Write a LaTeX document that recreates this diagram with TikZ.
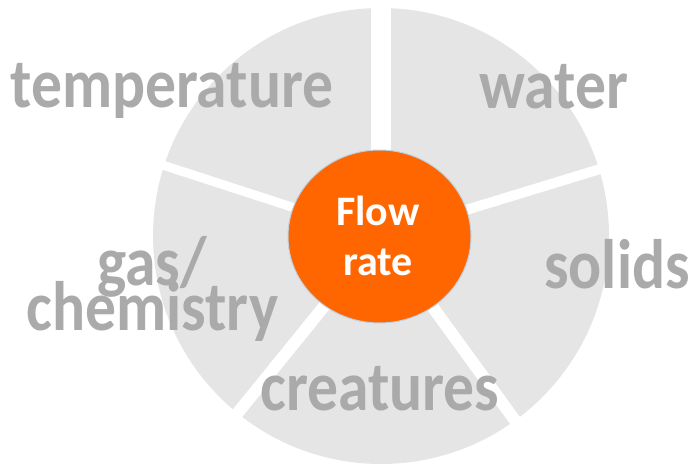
\documentclass[tikz,border=0pt]{standalone}
\usepackage{fontspec}
\setmainfont{Carlito}
\newfontfamily\lblfont[FakeStretch=0.88]{Carlito}
\usetikzlibrary{shapes.geometric,calc}
\definecolor{seg}{RGB}{229,229,229}
\definecolor{lbl}{RGB}{170,170,170}
\definecolor{flow}{RGB}{255,102,0}
\definecolor{rim}{RGB}{190,208,225}
\begin{document}
\begin{tikzpicture}[x=1pt,y=-1pt,
  lbltext/.style={text=lbl, font=\lblfont\bfseries\fontsize{70}{70}\selectfont, inner sep=0pt, anchor=base},
  gapline/.style={draw=white, line width=#1},
  hubtext/.style={text=white, font=\bfseries\fontsize{42}{50}\selectfont, inner sep=0pt, anchor=base}]
\useasboundingbox (0,0) rectangle (698,463);
\coordinate (pc) at (381,236);
% pie disc
\fill[seg] (pc) circle[radius=228];
% gaps between the five segments
\coordinate (e1) at ($(pc)+(-90:240)$);
\coordinate (e2) at ($(pc)+(-162:240)$);
\coordinate (e3) at ($(pc)+(-231:240)$);
\coordinate (e4) at ($(pc)+(-306:240)$);
\coordinate (e5) at ($(pc)+(-17:240)$);
\draw[gapline=20pt] (pc) -- (e1);
\draw[gapline=9pt] (pc) -- (e2);
\draw[gapline=12pt] (pc) -- (e3);
\draw[gapline=12pt] (pc) -- (e4);
\draw[gapline=10pt] (pc) -- (e5);
% labels
\node[lbltext] (temp) at (172,107) {temperature};
\node[lbltext] (water) at (554,108) {water};
\node[lbltext] (solids) at (617,288) {solids};
\node[lbltext] (gas) at (152,285) {gas/};
\node[lbltext] (chem) at (152.5,330) {chemistry};
\node[lbltext] (creat) at (380,410) {creatures};
% centre
\node[ellipse, fill=flow, draw=rim, line width=1pt, minimum width=183pt, minimum height=173pt, inner sep=0pt] (hub) at (379.5,236.5) {};
\node[hubtext] (hubtxt) at (378,275) {\begin{tabular}[b]{@{}c@{}}Flow\\rate\end{tabular}};
\end{tikzpicture}
\end{document}
